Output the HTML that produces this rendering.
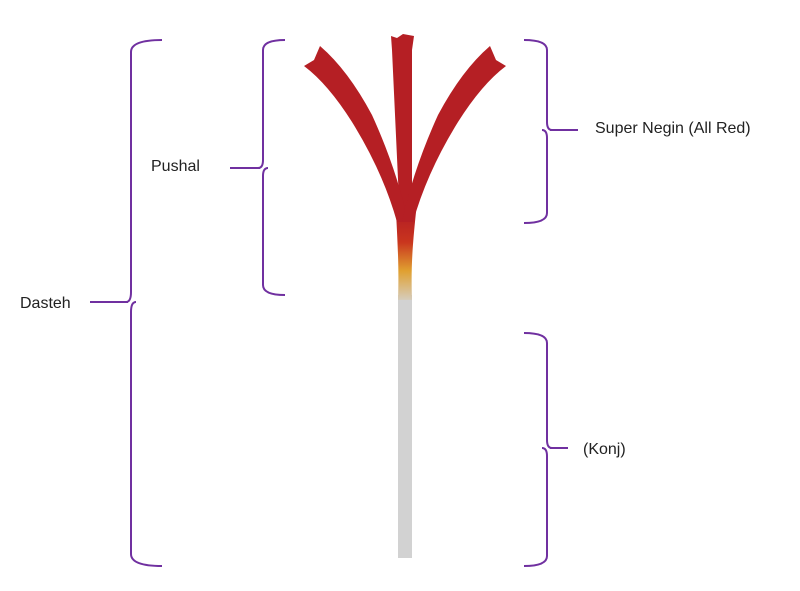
<!DOCTYPE html>
<html><head><meta charset="utf-8"><style>
html,body{margin:0;padding:0;background:#fff;}
svg{display:block;}
text{font-family:"Liberation Sans",sans-serif;font-size:16px;fill:#222;}
</style></head><body>
<svg width="800" height="591" viewBox="0 0 800 591" xmlns="http://www.w3.org/2000/svg">
<defs>
<linearGradient id="g" gradientUnits="userSpaceOnUse" x1="0" y1="215" x2="0" y2="305">
<stop offset="0" stop-color="#b51f24"/>
<stop offset="0.3" stop-color="#c9351e"/>
<stop offset="0.62" stop-color="#e0a030"/>
<stop offset="1" stop-color="#d4d4d4"/>
</linearGradient>
</defs>
<rect x="398" y="295" width="14" height="263" fill="#d2d2d2"/>
<path d="M396 212 C398 250 399 270 398 300 L412 300 C411 270 412 250 416 212 Z" fill="url(#g)"/>
<g fill="#b51f24">
<path d="M391 36 L397 38 L403 34 L414 36 L412 50 L412 222 L400 222 L392 50 Z"/>
<path d="M304 66 L314 60 L320 46 Q348 70 372 115 Q397 170 408 222 L397 222 Q383 172 352 122 Q328 84 304 66 Z"/>
<path d="M506 66 L496 60 L490 46 Q462 70 438 115 Q413 170 402 222 L413 222 Q427 172 458 122 Q482 84 506 66 Z"/>
</g>
<g fill="none" stroke="#7030a0" stroke-width="2">
<path d="M162 40 Q131 40 131 52 L131 292 Q131 302 126 302 M131 312 Q131 302 136 302 M131 312 L131 554 Q131 566 162 566"/>
<path d="M90 302 L128 302"/>
<path d="M285 40 Q263 40 263 50 L263 160 Q263 168 258 168 M263 176 Q263 168 268 168 M263 176 L263 285 Q263 295 285 295"/>
<path d="M230 168 L260 168"/>
<path d="M524 40 Q547 40 547 50 L547 122 Q547 130 552 130 M547 138 Q547 130 542 130 M547 138 L547 213 Q547 223 524 223"/>
<path d="M550 130 L578 130"/>
<path d="M524 333 Q547 333 547 343 L547 440 Q547 448 552 448 M547 456 Q547 448 542 448 M547 456 L547 556 Q547 566 524 566"/>
<path d="M550 448 L568 448"/>
</g>
<text x="20" y="308">Dasteh</text>
<text x="151" y="171">Pushal</text>
<text x="595" y="133">Super Negin (All Red)</text>
<text x="583" y="454">(Konj)</text>
</svg>
</body></html>
